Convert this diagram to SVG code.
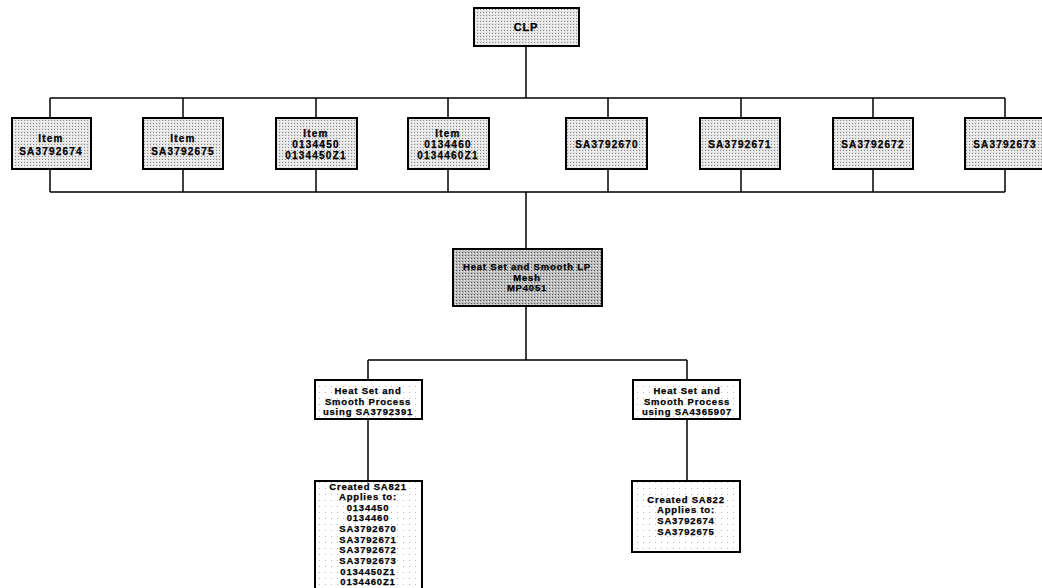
<svg xmlns="http://www.w3.org/2000/svg" width="1042" height="588" viewBox="0 0 1042 588">
<defs>
<pattern id="dots" width="3" height="3" patternUnits="userSpaceOnUse">
<rect width="3" height="3" fill="#e4e4e4"/>
<rect x="0" y="0" width="1" height="1" fill="#8a8a8a"/>
<rect x="2" y="1" width="1" height="1" fill="#ffffff"/>
</pattern>
<pattern id="dotsdark" width="3" height="3" patternUnits="userSpaceOnUse">
<rect width="3" height="3" fill="#bcbcbc"/>
<rect x="0" y="0" width="1" height="1" fill="#5a5a5a"/>
<rect x="2" y="1" width="1" height="1" fill="#f4f4f4"/>
</pattern>
<pattern id="sparse" width="6" height="6" patternUnits="userSpaceOnUse">
<rect width="6" height="6" fill="#ffffff"/>
<rect x="1" y="2" width="1" height="1" fill="#b8b8b8"/>
</pattern>
</defs>
<style>
.box{fill:url(#dots);stroke:#000;stroke-width:2}
.dark{fill:url(#dotsdark);stroke:#000;stroke-width:2}
.white{fill:url(#sparse);stroke:#000;stroke-width:2}
.t{font-family:"Liberation Sans",Arial,sans-serif;font-weight:bold;font-size:9.5px;letter-spacing:0.8px;text-anchor:middle;fill:#000;stroke:#000;stroke-width:0.25}
.r{font-size:10px;letter-spacing:1.2px}
.big{font-size:11px}
.c{stroke:#000;stroke-width:1.5;fill:none}
</style>
<rect width="1042" height="588" fill="#fff"/>
<g id="connectors">
<path class="c" d="M526 47V98M50 98H1005"/>
<path class="c" d="M50 98V118M183 98V118M316 98V118M448 98V118M608 98V118M741 98V118M873 98V118M1005 98V118"/>
<path class="c" d="M50 169V192M183 169V192M316 169V192M448 169V192M608 169V192M741 169V192M873 169V192M1005 169V192M50 192H1005"/>
<path class="c" d="M526 192V249M526 306V360M368 360H687M368 360V380M687 360V380"/>
<path class="c" d="M368 419V481M687 419V481"/>
</g>
<g id="clp"><rect class="box" x="474" y="8" width="105" height="38"/><text class="t big" x="526" y="31">CLP</text></g>
<g id="n1"><rect class="box" x="12" y="118" width="79" height="51"/><text class="t r" x="51" y="142">Item</text><text class="t r" x="51" y="155">SA3792674</text></g>
<g id="n2"><rect class="box" x="143" y="118" width="80" height="51"/><text class="t r" x="183" y="142">Item</text><text class="t r" x="183" y="155">SA3792675</text></g>
<g id="n3"><rect class="box" x="276" y="118" width="81" height="51"/><text class="t r" x="316" y="137">Item</text><text class="t r" x="316" y="148">0134450</text><text class="t r" x="316" y="159">0134450Z1</text></g>
<g id="n4"><rect class="box" x="408" y="118" width="81" height="51"/><text class="t r" x="448" y="137">Item</text><text class="t r" x="448" y="148">0134460</text><text class="t r" x="448" y="159">0134460Z1</text></g>
<g id="n5"><rect class="box" x="566" y="118" width="81" height="51"/><text class="t r" x="607" y="148">SA3792670</text></g>
<g id="n6"><rect class="box" x="700" y="118" width="80" height="51"/><text class="t r" x="740" y="148">SA3792671</text></g>
<g id="n7"><rect class="box" x="833" y="118" width="80" height="51"/><text class="t r" x="873" y="148">SA3792672</text></g>
<g id="n8"><rect class="box" x="965" y="118" width="80" height="51"/><text class="t r" x="1005" y="148">SA3792673</text></g>
<g id="heatset"><rect class="dark" x="453" y="249" width="149" height="57"/><text class="t" x="527" y="270">Heat Set and Smooth LP</text><text class="t" x="527" y="281">Mesh</text><text class="t" x="527" y="291">MP4051</text></g>
<g id="proc1"><rect class="white" x="315" y="380" width="107" height="39"/><text class="t" x="368" y="394">Heat Set and</text><text class="t" x="368" y="405">Smooth Process</text><text class="t" x="368" y="415">using SA3792391</text></g>
<g id="proc2"><rect class="white" x="633" y="380" width="107" height="39"/><text class="t" x="687" y="394">Heat Set and</text><text class="t" x="687" y="405">Smooth Process</text><text class="t" x="687" y="415">using SA4365907</text></g>
<g id="sa821"><rect class="white" x="315" y="481" width="107" height="112"/>
<text class="t" x="368" y="490">Created SA821</text><text class="t" x="368" y="500">Applies to:</text><text class="t" x="368" y="511">0134450</text><text class="t" x="368" y="521">0134460</text><text class="t" x="368" y="532">SA3792670</text><text class="t" x="368" y="543">SA3792671</text><text class="t" x="368" y="553">SA3792672</text><text class="t" x="368" y="564">SA3792673</text><text class="t" x="368" y="575">0134450Z1</text><text class="t" x="368" y="585">0134460Z1</text></g>
<g id="sa822"><rect class="white" x="632" y="481" width="108" height="71"/>
<text class="t" x="686" y="503">Created SA822</text><text class="t" x="686" y="513">Applies to:</text><text class="t" x="686" y="524">SA3792674</text><text class="t" x="686" y="535">SA3792675</text></g>
</svg>
